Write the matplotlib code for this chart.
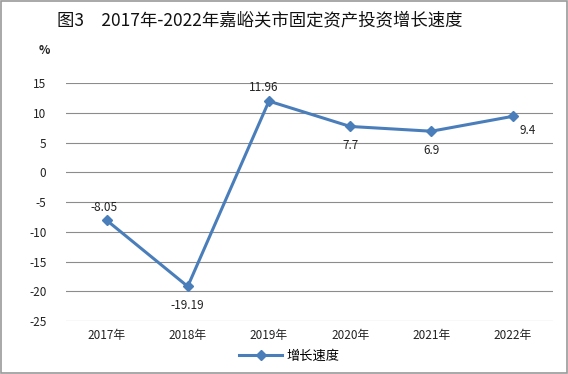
import matplotlib
matplotlib.use("Agg")
import matplotlib.pyplot as plt
from matplotlib.patches import Rectangle

plt.rcParams['font.family'] = ['Noto Sans CJK SC', 'DejaVu Sans']
plt.rcParams['axes.unicode_minus'] = False

years = ["2017年", "2018年", "2019年", "2020年", "2021年", "2022年"]
growth = [-8.05, -19.19, 11.96, 7.7, 6.9, 9.4]
label_offsets = [(-2, 9), (0, -14), (-4, 10), (0, -14), (0, -14), (11, -10)]

line_color = "#4A7EBB"
text_color = "#222222"

fig = plt.figure(figsize=(5.68, 3.74), dpi=100)
fig.patches.append(Rectangle((0.002, 0.003), 0.996, 0.994, transform=fig.transFigure,
                             fill=False, edgecolor="#9a9a9a", linewidth=1.2))
ax = fig.add_axes([0.116, 0.1417, 0.858, 0.6363])

x = range(len(years))
ax.plot(x, growth, color=line_color, linewidth=2.2, marker="D", markersize=5.5,
        label="增长速度")
for xi, v, off in zip(x, growth, label_offsets):
    ax.annotate(f"{v:g}", (xi, v), xytext=off, textcoords="offset points",
                ha="center", va="center", fontsize=8.5, color=text_color)

ax.set_xlim(-0.5, len(years) - 0.5)
ax.set_ylim(-25, 15)
ax.set_yticks(range(-25, 16, 5))
ax.set_xticks(list(x))
ax.set_xticklabels(years)
ax.grid(axis="y", color="#8c8c8c", linewidth=0.8)
ax.set_axisbelow(True)
for s in ax.spines.values():
    s.set_visible(False)
ax.tick_params(length=0, labelsize=8.5, colors=text_color, pad=6)
ax.tick_params(axis="y", pad=14)

fig.text(0.458, 0.945, "图3　2017年-2022年嘉峪关市固定资产投资增长速度",
         ha="center", va="center", fontsize=12.5, color="#111111")
fig.text(0.078, 0.865, "%", ha="center", va="center", fontsize=8.5,
         fontweight="bold", color=text_color)

fig.legend(loc="center", bbox_to_anchor=(0.51, 0.048), frameon=False, fontsize=9.5,
           handlelength=3.2, handletextpad=0.4)

fig.savefig("out.png", dpi=100)
